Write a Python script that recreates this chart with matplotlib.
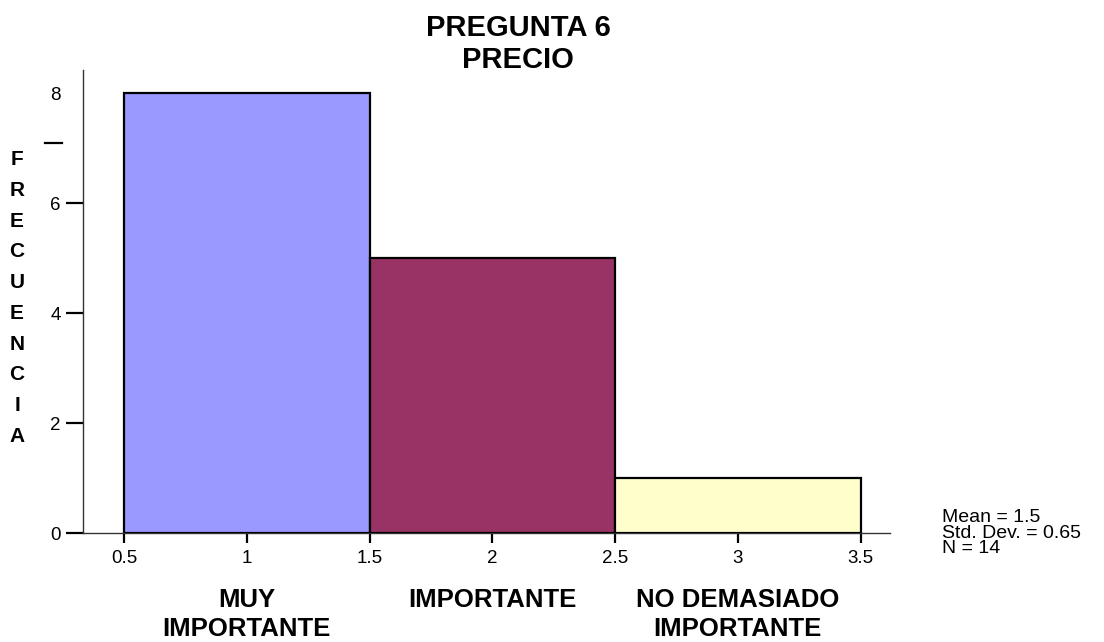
import matplotlib
matplotlib.use("Agg")
import matplotlib.pyplot as plt
import matplotlib.transforms as mtransforms

plt.rcParams['font.family'] = ['Liberation Sans', 'DejaVu Sans']

# data
edges = [0.5, 1.5, 2.5, 3.5]
counts = [8, 5, 1]
colors = ['#9999FF', '#993366', '#FFFFCC']
categories = ['MUY\nIMPORTANTE', 'IMPORTANTE', 'NO DEMASIADO\nIMPORTANTE']
cat_pos = [1, 2, 3]
xticks = [0.5, 1, 1.5, 2, 2.5, 3, 3.5]
xticklabels = ['0.5', '1', '1.5', '2', '2.5', '3', '3.5']
yticks = [0, 2, 4, 6, 8]
stats = "Mean = 1.5\nStd. Dev. = 0.65\nN = 14"

fig = plt.figure(figsize=(11.04, 6.42), dpi=100)
ax = fig.add_axes([83/1104, 109/642, (890-83)/1104, (533-70)/642])

widths = [edges[i+1] - edges[i] for i in range(len(counts))]
ax.bar(edges[:-1], counts, width=widths, align='edge', color=colors,
       edgecolor='black', linewidth=1.6, zorder=3)

ax.set_xlim(0.333, 3.62)
ax.set_ylim(0, 8.42)

for s in ['top', 'right']:
    ax.spines[s].set_visible(False)
ax.spines['left'].set_color('#333333')
ax.spines['bottom'].set_color('#333333')
ax.spines['left'].set_linewidth(1.0)
ax.spines['bottom'].set_linewidth(1.0)

ax.set_xticks(xticks)
ax.set_xticklabels(xticklabels, fontsize=13.5)
ax.tick_params(axis='x', direction='out', length=7, width=1.6, pad=5)
ax.set_yticks(yticks)
ax.set_yticklabels([str(v) for v in yticks], fontsize=13.5)
ax.tick_params(axis='y', direction='out', length=12, width=1.6, pad=4)
# the 8 tick has no tick mark in the original, a stray dash sits below it
ax.yaxis.get_major_ticks()[-1].tick1line.set_visible(False)
trans = mtransforms.blended_transform_factory(ax.transAxes, ax.transData)
ax.plot([-38/807, -21/807], [7.09, 7.09], color='black', lw=1.6,
        transform=trans, clip_on=False)

# category labels under the axis
ctrans = mtransforms.blended_transform_factory(ax.transData, ax.transAxes)
for x, lab in zip(cat_pos, categories):
    ax.text(x, -55/463, lab, transform=ctrans, ha='center', va='top',
            fontsize=18.5, fontweight='bold', linespacing=1.25)

# title
fig.text(518/1104, 1 - 44/642, "PREGUNTA 6\nPRECIO", ha='center', va='center',
         fontsize=21, fontweight='bold', linespacing=1.2)

# vertical stacked y label
fig.text(17/1104, 1 - 298/642, "\n".join("FRECUENCIA"), ha='center', va='center',
         fontsize=15, fontweight='bold', linespacing=1.78)

# stats box
fig.text(942/1104, 1 - 533/642, stats, ha='left', va='center', fontsize=14,
         linespacing=0.86)

fig.savefig("out.png", dpi=100)
